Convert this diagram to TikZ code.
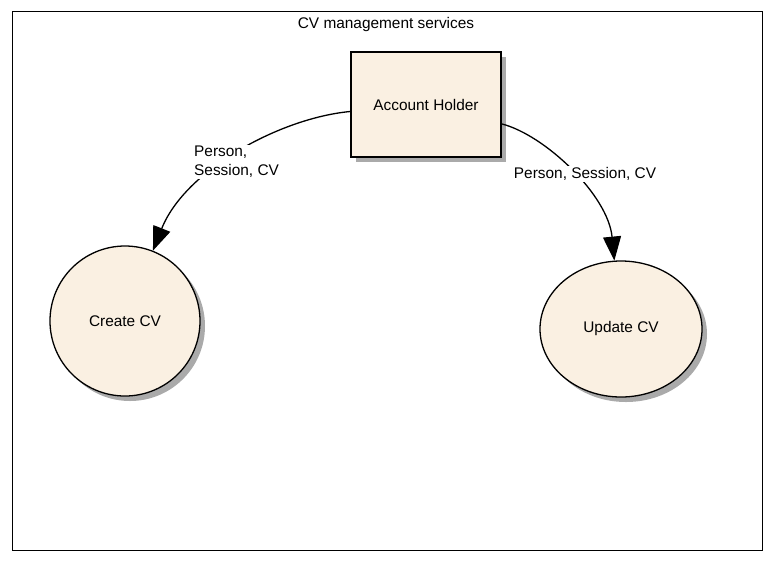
\documentclass[tikz,border=0pt]{standalone}
\usepackage{fontspec}
\setmainfont{Liberation Sans}
\usetikzlibrary{arrows.meta,shapes.geometric,shadows}
\definecolor{nodefill}{RGB}{250,240,226}
\definecolor{shadowgray}{RGB}{170,170,170}
\begin{document}
\begin{tikzpicture}[x=1pt,y=-1pt,
  every node/.style={font=\fontsize{15.4}{19}\selectfont},
  shad/.style={drop shadow={shadow xshift=5pt,shadow yshift=-5pt,fill=shadowgray,opacity=1}},
  actor/.style={draw,line width=1.3pt,fill=nodefill,shad,rectangle,minimum width=150pt,minimum height=105pt,inner sep=0pt},
  usecase/.style={draw,line width=1.3pt,fill=nodefill,shad,ellipse,inner sep=0pt},
  flow/.style={line width=1.3pt,-{Triangle[length=24pt,width=18pt]}},
  lbl/.style={fill=white,inner sep=1pt}
]
\useasboundingbox (0,0) rectangle (773,566);
\node[draw,line width=1.3pt,minimum width=750pt,minimum height=539pt,anchor=north west,inner sep=0pt] (frame) at (12,11) {};
\node (title) at (386,25) {CV management services};
\node[actor] (ah) at (426,104.5) {Account Holder};
\node[usecase,minimum width=150pt,minimum height=150pt] (cv) at (125,321) {Create CV};
\node[usecase,minimum width=162pt,minimum height=136pt] (uc) at (621,329) {Update CV};
\draw[flow] (ah) .. controls (280,118) and (185,170) .. (cv);
\draw[flow] (ah) .. controls (545,135) and (608,195) .. (uc);
\node[lbl,anchor=west,align=left] (l1) at (193,162) {Person,\\Session, CV};
\node[lbl] (l2) at (585,174) {Person, Session, CV};
\end{tikzpicture}
\end{document}
